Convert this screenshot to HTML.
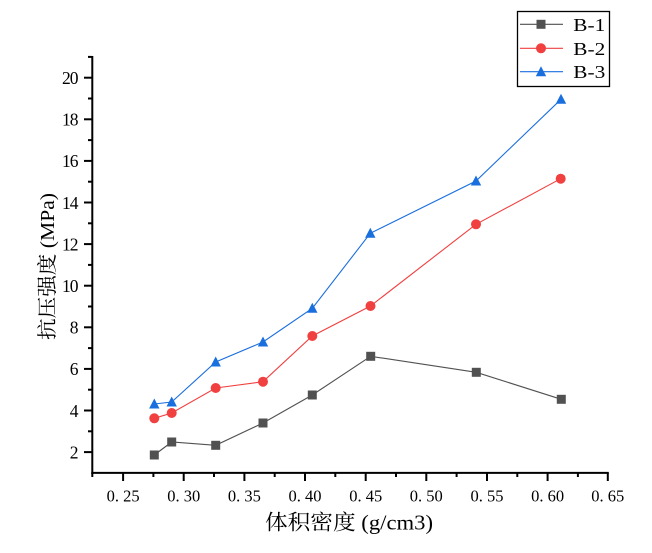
<!DOCTYPE html>
<html>
<head>
<meta charset="utf-8">
<style>
html,body{margin:0;padding:0;background:#fff;}
svg{display:block;}
text{font-family:"Liberation Serif","Noto Serif CJK SC",serif;fill:#000;}
</style>
</head>
<body>
<svg width="652" height="553" viewBox="0 0 652 553" xmlns="http://www.w3.org/2000/svg">
<rect width="652" height="553" fill="#fff"/>

<!-- axes -->
<g stroke="#000" stroke-width="2" fill="none">
  <line x1="92.3" y1="56" x2="92.3" y2="473.9"/>
  <line x1="91.3" y1="472.9" x2="608.8" y2="472.9"/>
  <!-- y major ticks -->
  <line x1="84" y1="452.1" x2="92" y2="452.1"/>
  <line x1="84" y1="410.5" x2="92" y2="410.5"/>
  <line x1="84" y1="368.9" x2="92" y2="368.9"/>
  <line x1="84" y1="327.3" x2="92" y2="327.3"/>
  <line x1="84" y1="285.7" x2="92" y2="285.7"/>
  <line x1="84" y1="244.1" x2="92" y2="244.1"/>
  <line x1="84" y1="202.5" x2="92" y2="202.5"/>
  <line x1="84" y1="160.9" x2="92" y2="160.9"/>
  <line x1="84" y1="119.3" x2="92" y2="119.3"/>
  <line x1="84" y1="77.7" x2="92" y2="77.7"/>
  <!-- y minor ticks -->
  <line x1="88" y1="431.3" x2="92" y2="431.3"/>
  <line x1="88" y1="389.7" x2="92" y2="389.7"/>
  <line x1="88" y1="348.1" x2="92" y2="348.1"/>
  <line x1="88" y1="306.5" x2="92" y2="306.5"/>
  <line x1="88" y1="264.9" x2="92" y2="264.9"/>
  <line x1="88" y1="223.3" x2="92" y2="223.3"/>
  <line x1="88" y1="181.7" x2="92" y2="181.7"/>
  <line x1="88" y1="140.1" x2="92" y2="140.1"/>
  <line x1="88" y1="98.5" x2="92" y2="98.5"/>
  <line x1="88" y1="56.9" x2="92" y2="56.9"/>
  <!-- x major ticks -->
  <line x1="123.1" y1="473" x2="123.1" y2="481"/>
  <line x1="183.7" y1="473" x2="183.7" y2="481"/>
  <line x1="244.4" y1="473" x2="244.4" y2="481"/>
  <line x1="305" y1="473" x2="305" y2="481"/>
  <line x1="365.7" y1="473" x2="365.7" y2="481"/>
  <line x1="426.3" y1="473" x2="426.3" y2="481"/>
  <line x1="487" y1="473" x2="487" y2="481"/>
  <line x1="547.6" y1="473" x2="547.6" y2="481"/>
  <line x1="607.8" y1="473" x2="607.8" y2="481"/>
  <!-- x minor ticks -->
  <line x1="92.3" y1="473" x2="92.3" y2="477"/>
  <line x1="153.4" y1="473" x2="153.4" y2="477"/>
  <line x1="214" y1="473" x2="214" y2="477"/>
  <line x1="274.7" y1="473" x2="274.7" y2="477"/>
  <line x1="335.3" y1="473" x2="335.3" y2="477"/>
  <line x1="396" y1="473" x2="396" y2="477"/>
  <line x1="456.6" y1="473" x2="456.6" y2="477"/>
  <line x1="517.3" y1="473" x2="517.3" y2="477"/>
  <line x1="577.9" y1="473" x2="577.9" y2="477"/>
</g>

<!-- y tick labels -->
<g font-size="17.5" text-anchor="end">
  <text x="78.5" y="458.4">2</text>
  <text x="78.5" y="416.8">4</text>
  <text x="78.5" y="375.2">6</text>
  <text x="78.5" y="333.6">8</text>
  <text x="78.5" y="292" textLength="16.5">10</text>
  <text x="78.5" y="250.4" textLength="16.5">12</text>
  <text x="78.5" y="208.8" textLength="16.5">14</text>
  <text x="78.5" y="167.2" textLength="16.5">16</text>
  <text x="78.5" y="125.6" textLength="16.5">18</text>
  <text x="78.5" y="84" textLength="16.5">20</text>
</g>

<!-- x tick labels -->
<g font-size="16.5">
  <text x="106.6" y="501.7" textLength="33">0. 25</text>
  <text x="167.2" y="501.7" textLength="33">0. 30</text>
  <text x="227.9" y="501.7" textLength="33">0. 35</text>
  <text x="288.5" y="501.7" textLength="33">0. 40</text>
  <text x="349.2" y="501.7" textLength="33">0. 45</text>
  <text x="409.8" y="501.7" textLength="33">0. 50</text>
  <text x="470.5" y="501.7" textLength="33">0. 55</text>
  <text x="531.1" y="501.7" textLength="33">0. 60</text>
  <text x="591.3" y="501.7" textLength="33">0. 65</text>
</g>

<!-- axis titles -->
<text x="265" y="529.5" font-size="21" textLength="168" lengthAdjust="spacingAndGlyphs">体积密度 (g/cm3)</text>
<text transform="translate(54,340) rotate(-90)" font-size="20" textLength="147" lengthAdjust="spacingAndGlyphs">抗压强度 (MPa)</text>

<!-- series lines -->
<polyline fill="none" stroke="#515151" stroke-width="1.1"
  points="154.3,455 171.7,442 215.7,445.3 263,423 312.3,395 370.7,356.3 476.3,372.3 561.3,399.3"/>
<polyline fill="none" stroke="#F14040" stroke-width="1.1"
  points="154.3,418.3 171.7,413 215.7,388 263,381.7 312.3,336 370.5,306 476,224.3 560.7,178.7"/>
<polyline fill="none" stroke="#1A6FDF" stroke-width="1.1"
  points="154.3,404 171.7,402 215.7,362 263,342 312.3,308.3 370.3,233.3 476,181 561,99.3"/>

<!-- B-1 squares -->
<g fill="#515151">
  <rect x="149.8" y="450.5" width="9" height="9"/>
  <rect x="167.2" y="437.5" width="9" height="9"/>
  <rect x="211.2" y="440.8" width="9" height="9"/>
  <rect x="258.5" y="418.5" width="9" height="9"/>
  <rect x="307.8" y="390.5" width="9" height="9"/>
  <rect x="366.2" y="351.8" width="9" height="9"/>
  <rect x="471.8" y="367.8" width="9" height="9"/>
  <rect x="556.8" y="394.8" width="9" height="9"/>
</g>
<!-- B-2 circles -->
<g fill="#F14040">
  <circle cx="154.3" cy="418.3" r="5"/>
  <circle cx="171.7" cy="413" r="5"/>
  <circle cx="215.7" cy="388" r="5"/>
  <circle cx="263" cy="381.7" r="5"/>
  <circle cx="312.3" cy="336" r="5"/>
  <circle cx="370.5" cy="306" r="5"/>
  <circle cx="476" cy="224.3" r="5"/>
  <circle cx="560.7" cy="178.7" r="5"/>
</g>
<!-- B-3 triangles -->
<g fill="#1A6FDF">
  <polygon points="154.3,398.5 159.5,408.5 149.1,408.5"/>
  <polygon points="171.7,396.5 176.9,406.5 166.5,406.5"/>
  <polygon points="215.7,356.5 220.9,366.5 210.5,366.5"/>
  <polygon points="263,336.5 268.2,346.5 257.8,346.5"/>
  <polygon points="312.3,302.8 317.5,312.8 307.1,312.8"/>
  <polygon points="370.3,227.8 375.5,237.8 365.1,237.8"/>
  <polygon points="476,175.5 481.2,185.5 470.8,185.5"/>
  <polygon points="561,93.8 566.2,103.8 555.8,103.8"/>
</g>

<!-- legend -->
<rect x="517.5" y="11.5" width="92" height="75" fill="#fff" stroke="#000" stroke-width="1.3"/>
<line x1="520" y1="24.3" x2="563" y2="24.3" stroke="#515151" stroke-width="1.1"/>
<rect x="536.5" y="19.8" width="9" height="9" fill="#515151"/>
<line x1="520" y1="48.3" x2="563" y2="48.3" stroke="#F14040" stroke-width="1.1"/>
<circle cx="541" cy="48.3" r="5" fill="#F14040"/>
<line x1="520" y1="71.7" x2="563" y2="71.7" stroke="#1A6FDF" stroke-width="1.1"/>
<polygon points="541,66.2 546.2,76.2 535.8,76.2" fill="#1A6FDF"/>
<g font-size="18">
  <text x="573.3" y="30.8" textLength="32" lengthAdjust="spacingAndGlyphs">B-1</text>
  <text x="573.3" y="54.8" textLength="32" lengthAdjust="spacingAndGlyphs">B-2</text>
  <text x="573.3" y="78.2" textLength="32" lengthAdjust="spacingAndGlyphs">B-3</text>
</g>
</svg>
</body>
</html>
